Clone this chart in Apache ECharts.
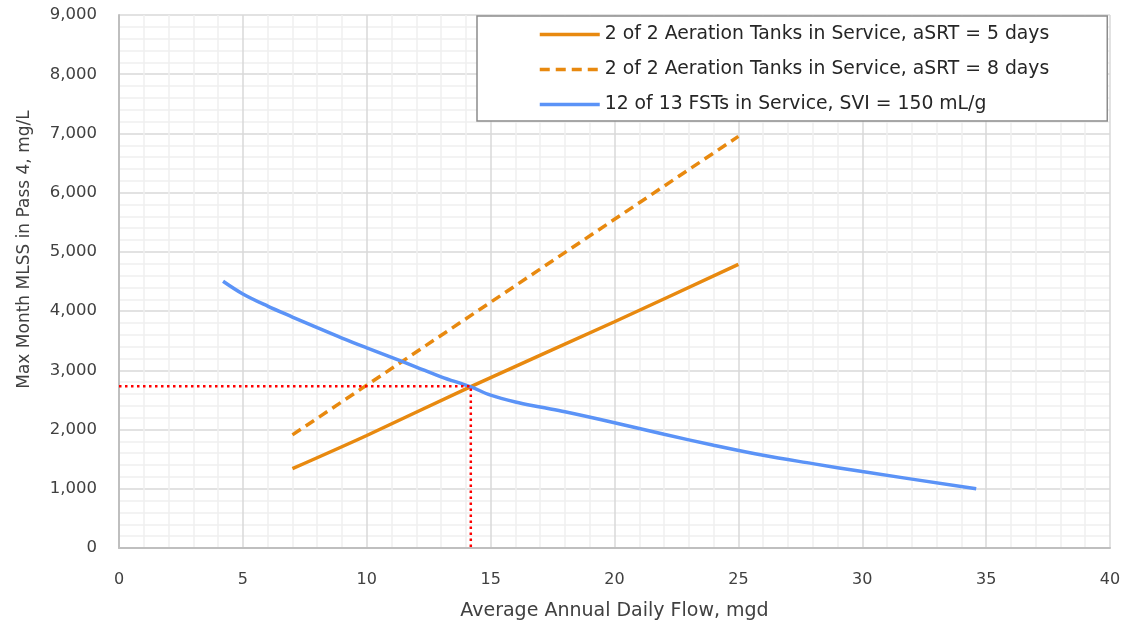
<!DOCTYPE html>
<html>
<head>
<meta charset="utf-8">
<script src="https://cdn.jsdelivr.net/npm/echarts@6/dist/echarts.min.js"></script>
<style>
html,body{margin:0;padding:0;background:#fff;}
#chart{width:1140px;height:628px;}
</style>
</head>
<body>
<div id="chart"></div>
<script>
var seriesNames = [
  '2 of 2 Aeration Tanks in Service, aSRT = 5 days',
  '2 of 2 Aeration Tanks in Service, aSRT = 8 days',
  '12 of 13 FSTs in Service, SVI = 150 mL/g'
];
var aeration5X = [7, 10, 14.2, 20, 25];
var aeration5Y = [1340, 1900, 2725, 3820, 4790];
var aeration8X = [7, 10, 15, 20, 25];
var aeration8Y = [1910, 2750, 4150, 5550, 6950];
var fstX = [4.2, 5, 6, 7, 8, 9, 10, 11, 12, 13, 14.2, 15, 16, 17, 18, 20, 22, 24, 26, 28, 30, 34.6];
var fstY = [4505, 4290, 4085, 3900, 3720, 3545, 3380, 3220, 3055, 2890, 2720, 2580, 2465, 2380, 2300, 2115, 1920, 1735, 1565, 1425, 1290, 1000];
var markerX = [0, 14.2, 14.2];
var markerY = [2730, 2730, 0];

function pairs(xs, ys){ return xs.map(function(x,i){ return [x, ys[i]]; }); }

var FONT = '"DejaVu Sans", Verdana, sans-serif';
var ORANGE = '#E8890F';
var BLUE = '#5B93F7';

var chart = echarts.init(document.getElementById('chart'));
chart.setOption({
  animation: false,
  backgroundColor: '#ffffff',
  grid: { left: 119, right: 30, top: 15, bottom: 80, containLabel: false },
  legend: {
    orient: 'vertical',
    left: 477, top: 16,
    padding: [9, 58, 7, 61],
    backgroundColor: '#ffffff',
    borderColor: '#8c8c8c', borderWidth: 1.5,
    itemWidth: 60, itemHeight: 14, itemGap: 16,
    itemStyle: { opacity: 0 },
    lineStyle: { width: 3.5 },
    textStyle: { fontFamily: FONT, fontSize: 18.8, color: '#262626' },
    data: seriesNames
  },
  xAxis: {
    type: 'value', min: 0, max: 40, interval: 5,
    name: 'Average Annual Daily Flow, mgd', nameLocation: 'middle', nameGap: 54,
    nameTextStyle: { fontFamily: FONT, fontSize: 19, color: '#404040' },
    axisLine: { show: true, lineStyle: { color: '#bfbfbf', width: 2 } },
    axisTick: { show: false },
    axisLabel: { margin: 24, fontFamily: FONT, fontSize: 16, color: '#404040' },
    splitLine: { show: true, lineStyle: { color: '#d9d9d9', width: 1.5 } },
    minorTick: { show: false, splitNumber: 5 },
    minorSplitLine: { show: true, lineStyle: { color: '#f0f0f0', width: 1.5 } }
  },
  yAxis: {
    type: 'value', min: 0, max: 9000, interval: 1000,
    name: 'Max Month MLSS in Pass 4, mg/L', nameLocation: 'middle', nameGap: 86,
    nameTextStyle: { fontFamily: FONT, fontSize: 17, color: '#404040', padding: [0, 0, 0, 64] },
    axisLine: { show: true, lineStyle: { color: '#bfbfbf', width: 2 } },
    axisTick: { show: false },
    axisLabel: { margin: 22, fontFamily: FONT, fontSize: 16.5, color: '#404040',
      formatter: function(v){ return v.toLocaleString('en-US'); } },
    splitLine: { show: true, lineStyle: { color: '#d9d9d9', width: 1.5 } },
    minorTick: { show: false, splitNumber: 5 },
    minorSplitLine: { show: true, lineStyle: { color: '#f0f0f0', width: 1.5 } }
  },
  series: [
    {
      name: seriesNames[0], type: 'line', data: pairs(aeration5X, aeration5Y),
      symbol: 'none', smooth: 0.3, z: 3,
      lineStyle: { color: ORANGE, width: 3.5 }, itemStyle: { color: ORANGE }
    },
    {
      name: seriesNames[1], type: 'line', data: pairs(aeration8X, aeration8Y),
      symbol: 'none', smooth: false, z: 3,
      lineStyle: { color: ORANGE, width: 3.5, type: [10, 6] }, itemStyle: { color: ORANGE }
    },
    {
      name: seriesNames[2], type: 'line', data: pairs(fstX, fstY),
      symbol: 'none', smooth: 0.35, z: 3,
      lineStyle: { color: BLUE, width: 3.5 }, itemStyle: { color: BLUE }
    },
    {
      name: 'marker', type: 'line', data: pairs(markerX, markerY),
      symbol: 'none', z: 4,
      lineStyle: { color: '#ff0000', width: 2.5, type: [2.5, 3.5] }
    }
  ]
});
</script>
</body>
</html>
